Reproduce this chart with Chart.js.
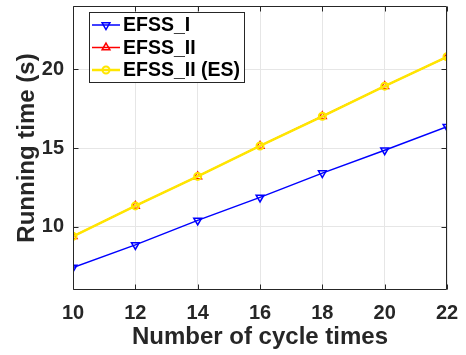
<!DOCTYPE html>
<html>
<head>
<meta charset="utf-8">
<script src="https://cdn.jsdelivr.net/npm/chart.js@4/dist/chart.umd.min.js"></script>
<style>
html,body{margin:0;padding:0;background:#fff;}
#wrap{width:466px;height:355px;}
</style>
</head>
<body>
<div id="wrap"><canvas id="c" width="466" height="355"></canvas></div>
<script>
const cycleTimes = [10, 12, 14, 16, 18, 20, 22];
const efssI = [7.42, 8.86, 10.41, 11.87, 13.41, 14.86, 16.35];
const efssII = [9.40, 11.33, 13.20, 15.13, 17.01, 18.92, 20.78];
const efssIIES = [9.40, 11.33, 13.20, 15.13, 17.01, 18.92, 20.78];
const xTicks = [10, 12, 14, 16, 18, 20, 22];
const yTicks = [10, 15, 20];
const seriesNames = ['EFSS_I', 'EFSS_II', 'EFSS_II (ES)'];

const FONT = "'Liberation Sans', Arial, sans-serif";
const AXIS = '#262626';

function pts(ys){ return cycleTimes.map((x,i)=>({x:x, y:ys[i]})); }

const frame = {
  id: 'frame',
  afterDatasetsDraw(chart){
    const ctx = chart.ctx, a = chart.chartArea;
    const xs = chart.scales.x, ys = chart.scales.y;
    ctx.save();
    ctx.strokeStyle = AXIS;
    ctx.lineWidth = 1;
    ctx.beginPath();
    const L = Math.round(a.left)+0.5, R = Math.round(a.right)-0.5, T = Math.round(a.top)+0.5, B = Math.round(a.bottom)-0.5;
    ctx.rect(L, T, R-L, B-T);
    const tl = 5;
    xTicks.forEach(v=>{
      const px = Math.round(xs.getPixelForValue(v))+0.5;
      ctx.moveTo(px, B); ctx.lineTo(px, B-tl);
      ctx.moveTo(px, T); ctx.lineTo(px, T+tl);
    });
    yTicks.forEach(v=>{
      const py = Math.round(ys.getPixelForValue(v))+0.5;
      ctx.moveTo(L, py); ctx.lineTo(L+tl, py);
      ctx.moveTo(R, py); ctx.lineTo(R-tl, py);
    });
    ctx.stroke();
    ctx.restore();
  },
  afterDraw(chart){
    const ctx = chart.ctx;
    const bx = 89.5, by = 12.5, bw = 155, bh = 70;
    ctx.save();
    ctx.fillStyle = '#fff';
    ctx.fillRect(bx, by, bw, bh);
    ctx.strokeStyle = AXIS;
    ctx.lineWidth = 1;
    ctx.strokeRect(bx, by, bw, bh);
    const rows = [25, 47.5, 70];
    chart.data.datasets.forEach((ds, i)=>{
      const y = rows[i];
      ctx.strokeStyle = ds.borderColor;
      ctx.lineWidth = ds.borderWidth;
      ctx.beginPath(); ctx.moveTo(92, y); ctx.lineTo(120, y); ctx.stroke();
      ctx.strokeStyle = ds.pointBorderColor;
      ctx.fillStyle = 'rgba(0,0,0,0)';
      ctx.lineWidth = ds.pointBorderWidth;
      Chart.helpers.drawPoint(ctx, {
        pointStyle: ds.pointStyle, rotation: ds.pointRotation || 0,
        radius: ds.pointRadius, borderWidth: ds.pointBorderWidth
      }, 106, y);
      ctx.fillStyle = '#000';
      ctx.font = 'bold 19.5px ' + FONT;
      ctx.textBaseline = 'middle';
      ctx.textAlign = 'left';
      ctx.fillText(ds.label, 123, y+1);
    });
    ctx.restore();
  }
};

const chart = new Chart(document.getElementById('c'), {
  type: 'line',
  data: {
    datasets: [
      { label: seriesNames[0], data: pts(efssI), borderColor: '#0000ff', borderWidth: 1.5, order: 2,
        pointStyle: 'triangle', pointRotation: 180, pointRadius: 4.5, pointBorderWidth: 1.5,
        pointBorderColor: '#0000ff', pointBackgroundColor: 'rgba(0,0,0,0)' },
      { label: seriesNames[1], data: pts(efssII), borderColor: '#ff0000', borderWidth: 1.5, order: 1,
        pointStyle: 'triangle', pointRotation: 0, pointRadius: 4.5, pointBorderWidth: 1.5,
        pointBorderColor: '#ff0000', pointBackgroundColor: 'rgba(0,0,0,0)' },
      { label: seriesNames[2], data: pts(efssIIES), borderColor: '#ffe600', borderWidth: 2.5, order: 0,
        pointStyle: 'circle', pointRadius: 3.5, pointBorderWidth: 2,
        pointBorderColor: '#ffe600', pointBackgroundColor: 'rgba(0,0,0,0)' }
    ]
  },
  options: {
    responsive: false,
    animation: false,
    events: [],
    layout: { padding: { top: 5, right: 19, left: 0, bottom: 0 } },
    plugins: { legend: { display: false }, tooltip: { enabled: false } },
    elements: { line: { tension: 0 } },
    scales: {
      x: {
        type: 'linear', min: 10, max: 22,
        afterBuildTicks: s => { s.ticks = xTicks.map(v=>({value:v})); },
        afterFit: s => { s.height = 65; s.paddingLeft = 0; s.paddingRight = 0; },
        grid: { color: '#e6e6e6', drawTicks: false, lineWidth: 1 },
        border: { display: false },
        ticks: { color: '#262626', font: { family: FONT, size: 20, weight: 'bold' }, padding: 11, maxRotation: 0, autoSkip: false },
        title: { display: true, text: 'Number of cycle times', color: '#262626',
          font: { family: FONT, size: 24, weight: 'bold' }, padding: { top: 0, bottom: 3 } }
      },
      y: {
        type: 'linear', min: 6, max: 24,
        afterBuildTicks: s => { s.ticks = yTicks.map(v=>({value:v})); },
        afterFit: s => { s.width = 73; s.paddingTop = 0; s.paddingBottom = 0; },
        grid: { color: '#e6e6e6', drawTicks: false, lineWidth: 1 },
        border: { display: false },
        ticks: { color: '#262626', font: { family: FONT, size: 20, weight: 'bold' }, padding: 9 },
        title: { display: true, text: 'Running time (s)', color: '#262626',
          font: { family: FONT, size: 24, weight: 'bold' }, padding: { top: 13, bottom: 0 } }
      }
    }
  },
  plugins: [frame]
});
</script>
</body>
</html>
